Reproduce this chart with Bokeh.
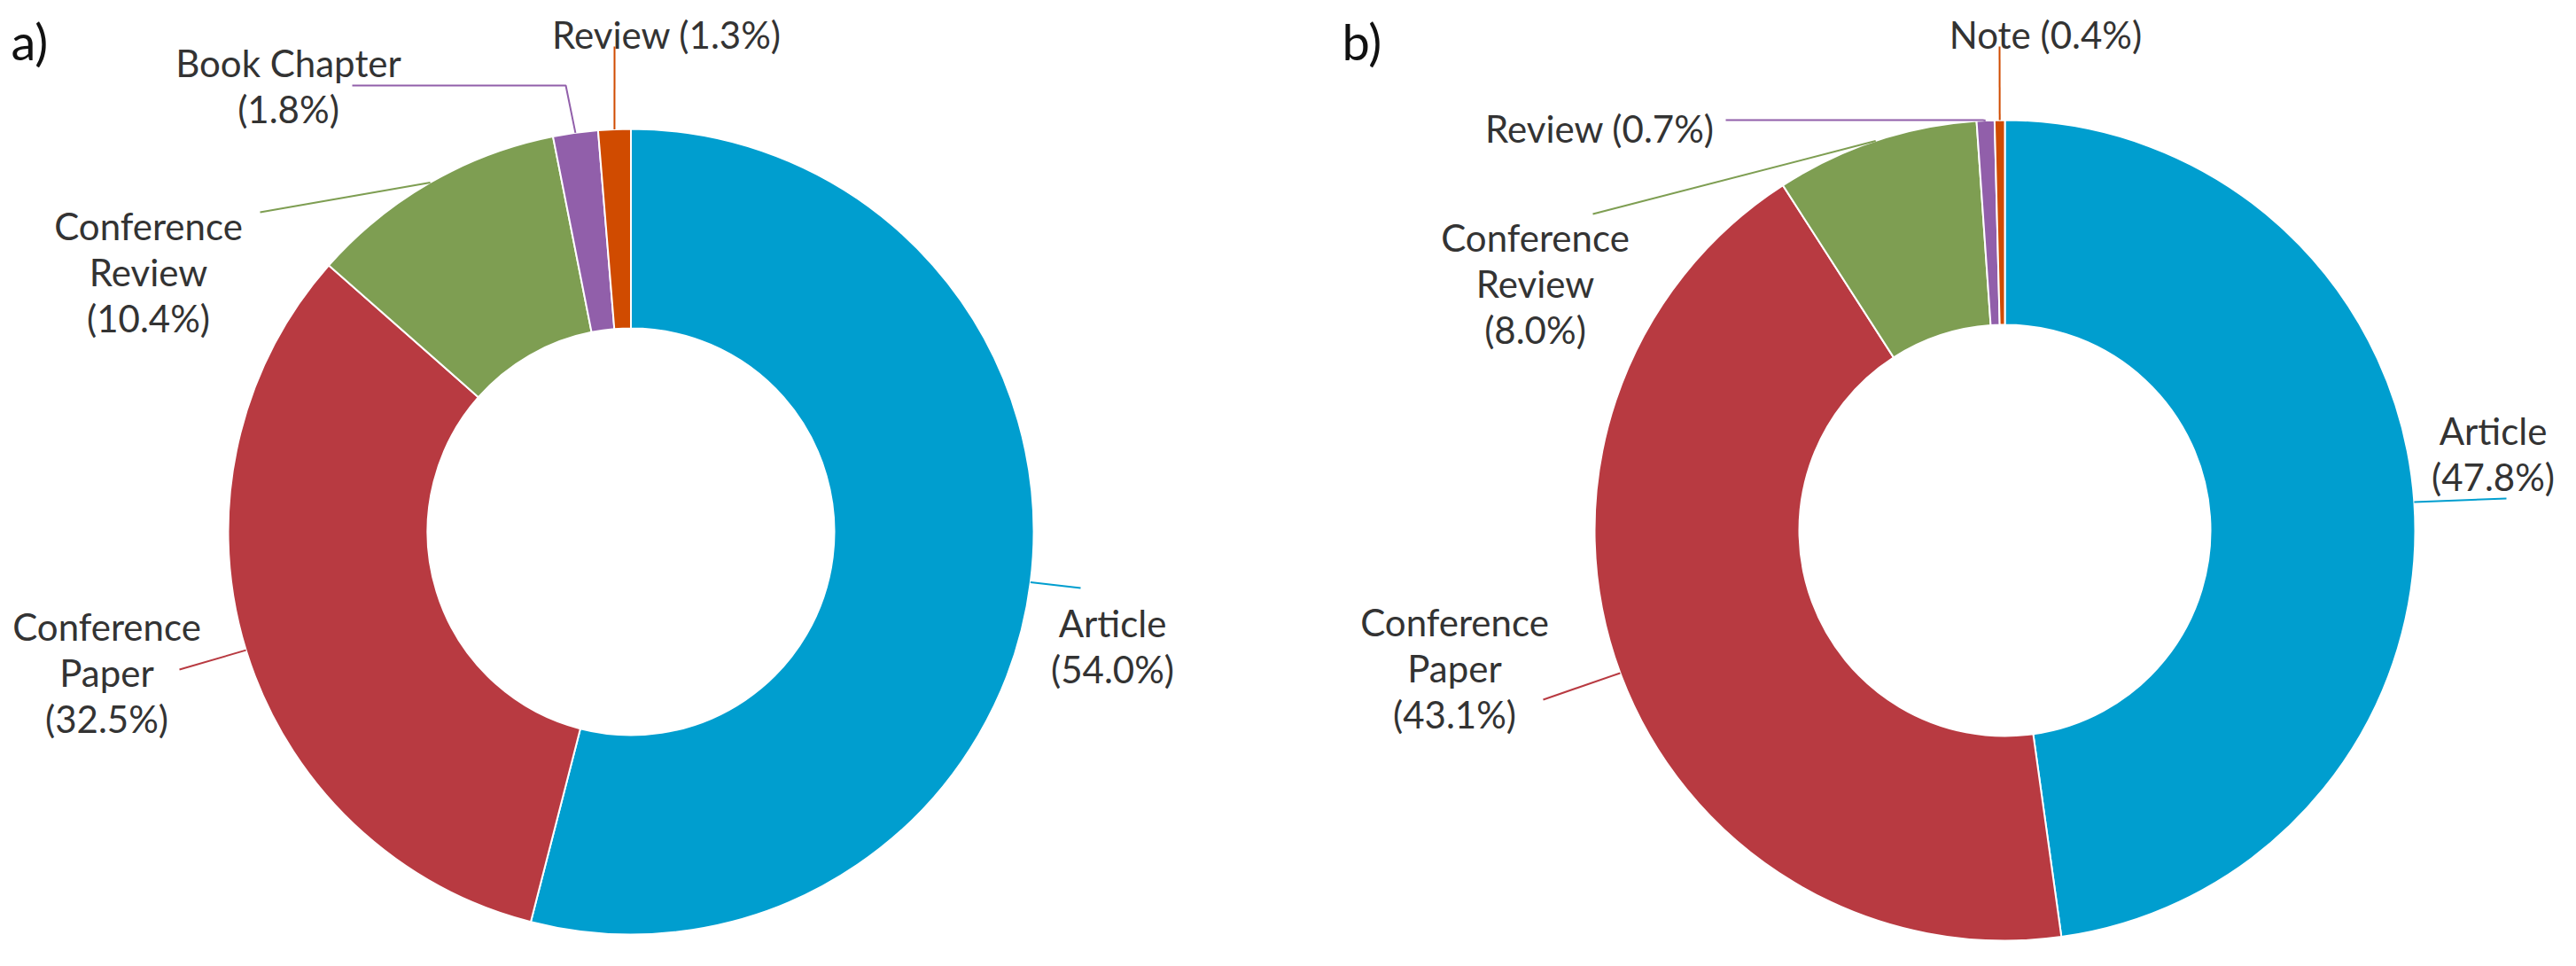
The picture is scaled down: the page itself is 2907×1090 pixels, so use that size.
import math
from bokeh.plotting import figure
from bokeh.models import Range1d
from bokeh.core.properties import value
from bokeh.embed import file_html
from bokeh.resources import INLINE

# ---------------- data ----------------
categories_a = ["Article", "Conference Paper", "Conference Review", "Book Chapter", "Review"]
shares_a = [54.0, 32.5, 10.4, 1.8, 1.3]

categories_b = ["Article", "Conference Paper", "Conference Review", "Review", "Note"]
shares_b = [47.8, 43.1, 8.0, 0.7, 0.4]

panel_titles = ["a)", "b)"]

# ---------------- style / layout ----------------
palette = ["#009ECF", "#B83A41", "#7E9E52", "#915FAA", "#D04B00"]
FONT = "Lato"
LABEL_SIZE = "42px"
LINE_STEP = 52
TEXT_COLOR = "#333333"

W, H = 2891, 1074
def Y(screen_y):
    return 1090 - screen_y

# label layout: centre x, first baseline y, line mode, leader path (screen px)
panels = [
    dict(cats=categories_a, vals=shares_a, title=panel_titles[0], title_xy=(20, 54),
         cx=719.5, cy=607.5, R=454.5, r=229.5,
         labels={
             "Article": (1263, 710, "words", [(1227, 671)]),
             "Conference Paper": (128, 714, "words", [(210, 763)]),
             "Conference Review": (175, 262, "words", [(301, 247)]),
             "Book Chapter": (333, 78, "name", [(646, 104), (405, 104)]),
             "Review": (760, 46, "inline", [(701, 60)]),
         }),
    dict(cats=categories_b, vals=shares_b, title=panel_titles[1], title_xy=(1522, 54),
         cx=2270, cy=606, R=463, r=232,
         labels={
             "Article": (2821, 493, "words", [(2836, 570)]),
             "Conference Paper": (1649, 709, "words", [(1749, 797)]),
             "Conference Review": (1740, 275, "words", [(1805, 249)]),
             "Review": (1813, 152, "inline", [(2245, 143), (1955, 143)]),
             "Note": (2316, 46, "inline", [(2264, 60)]),
         }),
]

p = figure(width=W, height=H, x_range=Range1d(8, 8 + W), y_range=Range1d(8, 8 + H),
           output_backend="svg", toolbar_location=None, min_border=0,
           x_axis_location=None, y_axis_location=None)
p.grid.visible = False
p.outline_line_color = None
p.background_fill_color = "white"
p.border_fill_color = "white"

for pan in panels:
    vals = pan["vals"]
    total = sum(vals)
    starts, ends, mids = [], [], []
    cum = 0.0
    for v in vals:
        a0 = math.pi / 2 - 2 * math.pi * cum / total
        cum += v
        a1 = math.pi / 2 - 2 * math.pi * cum / total
        starts.append(a0)
        ends.append(a1)
        mids.append((a0 + a1) / 2)
    cxd, cyd = pan["cx"], Y(pan["cy"])
    p.annular_wedge(x=[cxd] * len(vals), y=[cyd] * len(vals),
                    inner_radius=pan["r"], outer_radius=pan["R"],
                    start_angle=starts, end_angle=ends, direction="clock",
                    fill_color=palette[:len(vals)], line_color="white", line_width=2)

    for i, (cat, v) in enumerate(zip(pan["cats"], vals)):
        lx, ly, mode, path = pan["labels"][cat]
        pct = f"({v:.1f}%)"
        if mode == "words":
            lines = cat.split(" ") + [pct]
        elif mode == "name":
            lines = [cat, pct]
        else:
            lines = [f"{cat} {pct}"]
        # leader line from slice middle on the outer edge
        sx = cxd + pan["R"] * math.cos(mids[i])
        syd = cyd + pan["R"] * math.sin(mids[i])
        xs = [sx] + [pt[0] for pt in path]
        ys = [syd] + [Y(pt[1]) for pt in path]
        p.line(x=xs, y=ys, line_color=palette[i], line_width=2)
        p.text(x=[lx] * len(lines), y=[Y(ly + k * LINE_STEP) for k in range(len(lines))],
               text=lines, text_font=value(FONT), text_font_size=LABEL_SIZE,
               text_align="center", text_baseline="alphabetic", text_color=TEXT_COLOR)

    tx, ty = pan["title_xy"]
    p.text(x=[tx], y=[Y(ty)], text=[pan["title"]], text_font=value(FONT),
           text_font_size="56px", text_align="left", text_baseline="alphabetic",
           text_color="#111111")

open("out.html", "w").write(file_html(p, INLINE))
